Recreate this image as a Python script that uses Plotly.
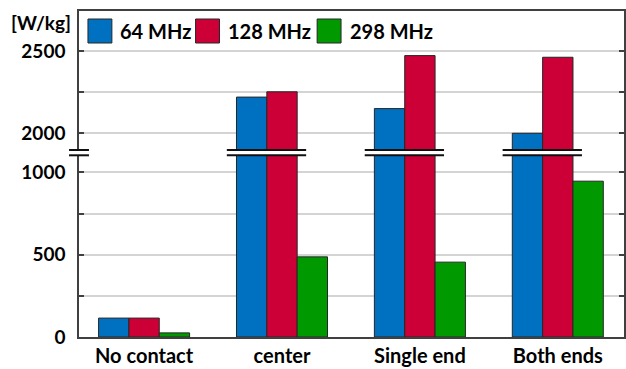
import plotly.graph_objects as go

# SAR values per contact configuration and RF frequency
categories = ["No contact", "center", "Single end", "Both ends"]
series_names = ["64 MHz", "128 MHz", "298 MHz"]
sar_64 = [115, 2220, 2150, 2000]
sar_128 = [115, 2252, 2472, 2462]
sar_298 = [25, 487, 455, 947]
series_values = [sar_64, sar_128, sar_298]
colors = ["#0070C0", "#CC0036", "#009900"]

lower_ticks = [0, 250, 500, 750, 1000]
lower_labels = ["0", "", "500", "", "1000"]
upper_ticks = [2000, 2250, 2500]
upper_labels = ["2000", "", "2500"]
unit_label = "[W/kg]"

# broken y axis: two stacked ranges
lower_range = [0, 1120]
upper_range = [1882, 2743]
split = 0.5653

W, H = 626, 369
ML, MR, MT, MB = 79, 0, 11, 32
PW = W - ML - MR
PH = H - MT - MB

FONT = dict(family="Lato", size=19, color="#000000", weight="bold")
FONT_L = dict(family="Lato", size=20, color="#000000", weight="bold")
AXIS_COLOR = "#404040"
GRID_COLOR = "#D4D4D4"

fig = go.Figure()
for name, vals, col in zip(series_names, series_values, colors):
    for xa, ya in (("x", "y"), ("x2", "y2")):
        fig.add_trace(go.Bar(
            x=categories, y=vals, name=name, xaxis=xa, yaxis=ya,
            marker=dict(color=col, line=dict(color="#262626", width=1)),
            showlegend=False,
        ))

yaxis_common = dict(
    showgrid=True, gridcolor=GRID_COLOR, gridwidth=1.5,
    showline=True, linecolor=AXIS_COLOR, linewidth=1.5,
    ticks="inside", ticklen=5, tickcolor=AXIS_COLOR, tickwidth=1.5,
    mirror="ticks", zeroline=False, tickfont=FONT, ticklabelstandoff=8,
    tickmode="array",
)

fig.update_layout(
    width=W, height=H,
    margin=dict(l=ML, r=MR, t=MT, b=MB),
    paper_bgcolor="white", plot_bgcolor="white",
    barmode="group", bargap=0.34, bargroupgap=0,
    xaxis=dict(domain=[0, 1], anchor="y", range=[-0.472, 3.48],
               showline=True, linecolor=AXIS_COLOR, linewidth=1.5,
               ticks="", showgrid=False, tickfont=FONT_L),
    xaxis2=dict(domain=[0, 1], anchor="y2", matches="x", side="top",
                showline=True, linecolor=AXIS_COLOR, linewidth=1.5,
                ticks="", showgrid=False, showticklabels=False),
    yaxis=dict(domain=[0, split], range=lower_range, anchor="x",
               tickvals=lower_ticks, ticktext=lower_labels, **yaxis_common),
    yaxis2=dict(domain=[split, 1], range=upper_range, anchor="x2",
                tickvals=upper_ticks, ticktext=upper_labels, **yaxis_common),
    showlegend=False,
)


def py(pixel_y):
    """Pixel row -> paper y."""
    return (H - MB - pixel_y) / PH


def px(pixel_x):
    """Pixel column -> paper x."""
    return (pixel_x - ML) / PW


# axis-break marks: white band between two black strokes
b_top, b_bot = py(150), py(155.3)
shapes = []


def add_break(x0, x1, xref):
    shapes.append(dict(type="rect", xref=xref, yref="paper", x0=x0, x1=x1,
                       y0=b_bot, y1=b_top, fillcolor="white",
                       line=dict(width=0), layer="above"))
    for yy in (b_top, b_bot):
        shapes.append(dict(type="line", xref=xref, yref="paper", x0=x0, x1=x1,
                           y0=yy, y1=yy, line=dict(color="#111111", width=2),
                           layer="above"))


add_break(px(69), px(89), "paper")
for i, cat in enumerate(categories):
    if any(v[i] > lower_range[1] for v in series_values):
        add_break(i - 0.40, i + 0.175, "x")

# legend drawn as square swatches with labels
annotations = []
legend_items = [(88, 118), (196, 227), (318, 349)]
sw_top, sw_bot = py(19), py(43)
for (sx, tx), name, col in zip(legend_items, series_names, colors):
    shapes.append(dict(type="rect", xref="paper", yref="paper",
                       x0=px(sx), x1=px(sx + 24), y0=sw_bot, y1=sw_top,
                       fillcolor=col, line=dict(color="#262626", width=1),
                       layer="above"))
    annotations.append(dict(xref="paper", yref="paper", x=px(tx), y=py(31),
                            text=name, showarrow=False, xanchor="left",
                            yanchor="middle", font=FONT_L))

annotations.append(dict(xref="paper", yref="paper", x=px(73), y=py(22),
                        text=unit_label, showarrow=False, xanchor="right",
                        yanchor="middle", font=FONT))

fig.update_layout(shapes=shapes, annotations=annotations)
fig.write_html("out.html")
